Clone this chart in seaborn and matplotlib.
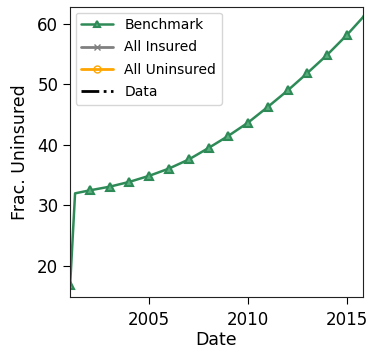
import matplotlib
matplotlib.use("Agg")
import matplotlib.pyplot as plt
import seaborn as sns
import pandas as pd

# Benchmark simulation: fraction uninsured over time
dates = [2001.0, 2001.25, 2002, 2003, 2004, 2005, 2006, 2007, 2008,
         2009, 2010, 2011, 2012, 2013, 2014, 2015, 2016]
benchmark = [16.8, 32.0, 32.5, 33.1, 33.9, 34.9, 36.1, 37.6, 39.5,
             41.5, 43.7, 46.3, 49.0, 51.9, 54.9, 58.2, 61.8]
# markers on yearly points only
marker_idx = [0] + list(range(2, len(dates)))

sns.set_style("ticks")
plt.rcParams["font.family"] = ["DejaVu Sans"]
for key in ("text.color", "axes.labelcolor", "xtick.color", "ytick.color"):
    plt.rcParams[key] = "black"

df = pd.DataFrame({"Date": dates, "Frac. Uninsured": benchmark})

fig, ax = plt.subplots(figsize=(3.71, 3.50), dpi=100)
green = "#2e8b57"
sns.lineplot(data=df, x="Date", y="Frac. Uninsured", ax=ax, color=green,
             marker="^", markersize=6, markevery=marker_idx, linewidth=1.8,
             markerfacecolor="#5aae7e", markeredgecolor=green,
             markeredgewidth=1.5, label="Benchmark")
ax.plot([], [], color="gray", marker="x", markersize=4, linewidth=2,
        label="All Insured")
ax.plot([], [], color="orange", marker="o", markersize=4, linewidth=2,
        markerfacecolor="none", label="All Uninsured")
ax.plot([], [], color="black", linestyle="-.", linewidth=2, label="Data")

ax.set_xlim(2001.0, 2015.8)
ax.set_ylim(14.9, 62.8)
ax.set_xticks([2005, 2010, 2015])
ax.set_yticks([20, 30, 40, 50, 60])
ax.tick_params(labelsize=12, colors="black", length=5)
ax.tick_params(axis="x", pad=5)
ax.set_xlabel("Date", fontsize=12.5, labelpad=2)
ax.set_ylabel("Frac. Uninsured", fontsize=12.5, labelpad=6)
for s in ax.spines.values():
    s.set_color("#222222")
leg = ax.legend(loc="upper left", fontsize=10, frameon=True,
                handlelength=2.3, borderaxespad=0.4, labelspacing=0.6)
for h in leg.legend_handles:
    h.set_markersize(5)

fig.subplots_adjust(left=0.189, right=0.978, top=0.98, bottom=0.152)
fig.savefig("out.png", dpi=100)
